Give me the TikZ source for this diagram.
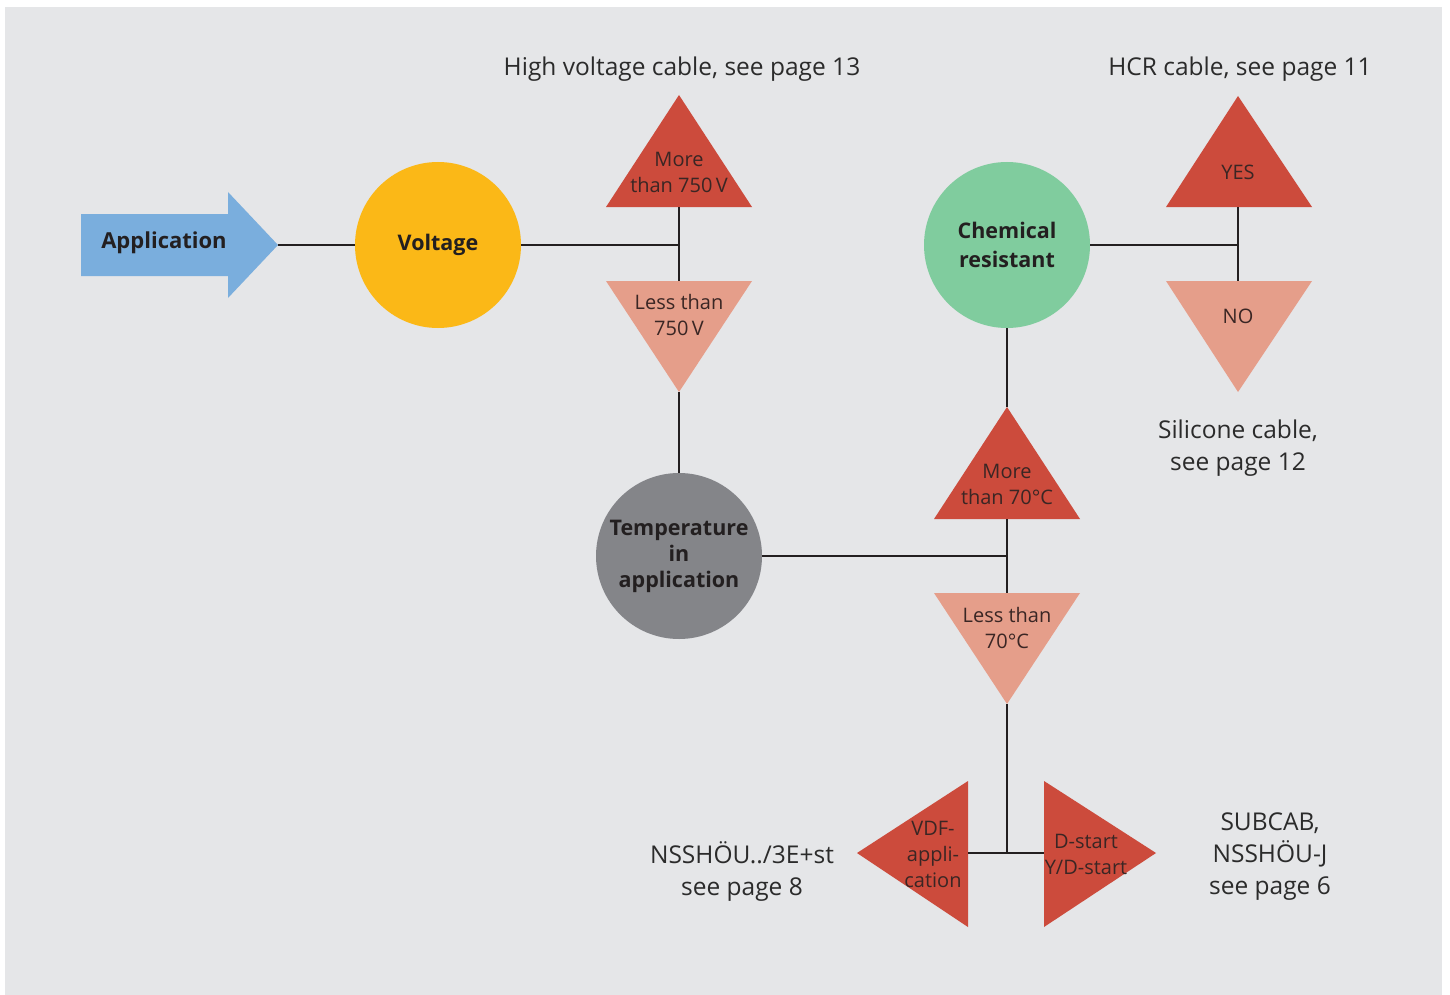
\documentclass[tikz,border=0pt]{standalone}
\usepackage{fontspec}
\setmainfont{Open Sans}
\begin{document}
\begin{tikzpicture}[x=1pt,y=-1pt,
  conn/.style={draw=linec,line width=2.4pt},
  circ/.style={circle,minimum size=166pt,inner sep=0pt,align=center,text=labc,
    font=\bfseries\fontsize{21.5}{27}\selectfont},
  tritext/.style={align=center,text=tric,font=\fontsize{20}{26}\selectfont,inner sep=0pt},
  outtext/.style={align=center,text=outc,font=\fontsize{24.5}{32}\selectfont,inner sep=0pt}]
\definecolor{bg}{HTML}{E5E6E8}
\definecolor{linec}{HTML}{231F20}
\definecolor{labc}{HTML}{231F20}
\definecolor{tric}{HTML}{3A2624}
\definecolor{outc}{HTML}{2B2B2B}
\definecolor{blue}{HTML}{7AAEDD}
\definecolor{yellow}{HTML}{FBB817}
\definecolor{grey}{HTML}{848589}
\definecolor{green}{HTML}{80CC9E}
\definecolor{dred}{HTML}{CC4B3C}
\definecolor{lred}{HTML}{E59E8A}
\useasboundingbox (0,0) rectangle (1450,995);
\fill[white] (0,0) rectangle (1450,995);
\fill[bg] (5,7) rectangle (1442,995);

% arrow
\fill[blue] (81,214) -- (228,214) -- (228,192) -- (278,245) -- (228,298) -- (228,276) -- (81,276) -- cycle;
\coordinate (apptip) at (278,245);
\node[text=labc,font=\bfseries\fontsize{22}{27}\selectfont] (app) at (164,243) {Application};

% circles
\node[circ,fill=yellow] (volt) at (438,245) {Voltage};
\node[circ,fill=grey] (temp) at (679,556) {Temperature\\[-1pt]in\\[-1pt]application};
\node[circ,fill=green] (chem) at (1007,245) {Chemical\\[2pt]resistant};

% triangles
\fill[dred] (679,95) -- (752,207) -- (606,207) -- cycle;
\coordinate (hvup) at (679,207);
\node[tritext] (hvt) at (679,172) {More\\than 750\,V};
\fill[lred] (606,281) -- (752,281) -- (679,392) -- cycle;
\coordinate (hvdtop) at (679,281);
\coordinate (hvdbot) at (679,392);
\node[tritext] (lvt) at (679,315) {Less than\\750\,V};

\fill[dred] (1238,96) -- (1312,207) -- (1166,207) -- cycle;
\coordinate (yesb) at (1238,207);
\node[tritext] (yest) at (1238,172) {YES};
\fill[lred] (1166,281) -- (1312,281) -- (1238,392) -- cycle;
\coordinate (notop) at (1238,281);
\node[tritext] (not) at (1238,316) {NO};

\fill[dred] (1007,407) -- (1080,519) -- (934,519) -- cycle;
\coordinate (mtapex) at (1007,407);
\coordinate (mtbase) at (1007,519);
\node[tritext] (mtt) at (1007,484) {More\\than 70°C};
\fill[lred] (934,593) -- (1080,593) -- (1007,704) -- cycle;
\coordinate (lttop) at (1007,593);
\coordinate (ltbot) at (1007,704);
\node[tritext] (ltt) at (1007,628) {Less than\\70°C};

\fill[dred] (857,853) -- (968,781) -- (968,927) -- cycle;
\coordinate (vdfb) at (968,853);
\node[tritext] (vdft) at (933,854) {VDF-\\appli-\\cation};
\fill[dred] (1044,781) -- (1156,853) -- (1044,927) -- cycle;
\coordinate (dsb) at (1044,853);
\node[tritext] (dst) at (1086,854) {D-start\\Y/D-start};

% junctions
\coordinate (j1) at (679,245);
\coordinate (j2) at (1238,245);
\coordinate (j3) at (1007,556);
\coordinate (j4) at (1007,853);

% connectors
\draw[conn] (apptip) -- (volt);
\draw[conn] (volt.east) -- (j1);
\draw[conn] (hvup) -- (hvdtop);
\draw[conn] (hvdbot) -- (temp.north);
\draw[conn] (temp.east) -- (j3);
\draw[conn] (mtbase) -- (lttop);
\draw[conn] (chem.south) -- (mtapex);
\draw[conn] (chem.east) -- (j2);
\draw[conn] (yesb) -- (notop);
\draw[conn] (ltbot) -- (j4);
\draw[conn] (vdfb) -- (dsb);

% outside texts
\node[outtext] (hvlab) at (682,69) {High voltage cable, see page 13};
\node[outtext] (hcrlab) at (1240,69) {HCR cable, see page 11};
\node[outtext] (silab) at (1238,448) {Silicone cable,\\see page 12};
\node[outtext] (nslab) at (742,871) {NSSHÖU../3E+st\\see page 8};
\node[outtext] (sublab) at (1270,857) {SUBCAB,\\NSSHÖU-J\\see page 6};
\end{tikzpicture}
\end{document}
